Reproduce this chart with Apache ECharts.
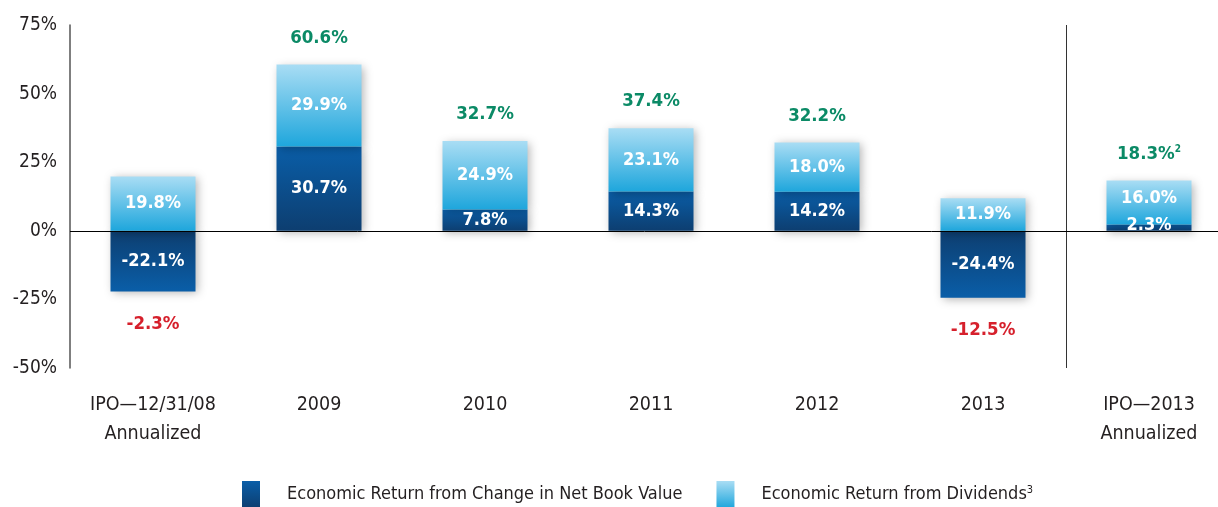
<!DOCTYPE html>
<html>
<head>
  <meta charset="utf-8">
  <title>Economic Return</title>
  <script src="https://cdn.jsdelivr.net/npm/echarts@6/dist/echarts.min.js"></script>
  <style>
    html,body {
      margin: 0;
      padding: 0;
      background: #fff;
    }
  </style>
</head>
<body>
  <div id="main" style="width: 1218px;height:507px;"></div>
  <script>
    // chart data
    var categories = ['IPO\u201412/31/08\nAnnualized', '2009', '2010', '2011', '2012', '2013', 'IPO\u20142013\nAnnualized'];
    var bookValue = [-22.1, 30.7, 7.8, 14.3, 14.2, -24.4, 2.3];
    var dividends = [19.8, 29.9, 24.9, 23.1, 18.0, 11.9, 16.0];
    var totals = [-2.3, 60.6, 32.7, 37.4, 32.2, -12.5, 18.3];
    var totalNotes = ['', '', '', '', '', '', '2'];
    var yTicks = [-50, -25, 0, 25, 50, 75];
    var seriesNames = ['Economic Return from Change in Net Book Value', 'Economic Return from Dividends'];

    var FONT = "'Liberation Sans Narrow', 'DejaVu Sans Condensed', 'Roboto Condensed', sans-serif";
    var chart = echarts.init(document.getElementById('main'));

    function grad(top, bottom) {
      return new echarts.graphic.LinearGradient(0, 0, 0, 1, [
        { offset: 0, color: top },
        { offset: 1, color: bottom }
      ]);
    }
    var DARK = '#0d3e70', MID = '#0a5ea8';
    var LIGHT = '#a9ddf4', CYAN = '#1ea6dc';
    var GREEN = '#0b8a66', RED = '#d6202c';

    function pct(v) {
      return v.toFixed(1) + '%';
    }

    var bookData = bookValue.map(function (v) {
      var item = {
        value: v,
        itemStyle: { color: v >= 0 ? grad(MID, DARK) : grad(DARK, MID) }
      };
      if (Math.abs(v) < 5) item.label = { offset: [0, -2] };
      return item;
    });
    var divData = dividends.map(function (v, i) {
      var item = { value: v, itemStyle: { color: grad(LIGHT, CYAN) } };
      if (Math.abs(bookValue[i]) < 5) item.label = { offset: [0, -4] };
      return item;
    });
    // total labels sit on the outer edge of each stack
    var totalData = totals.map(function (t, i) {
      var pos = t >= 0;
      var edge = pos ? Math.max(bookValue[i], 0) + dividends[i] : Math.min(bookValue[i], 0);
      return {
        value: edge,
        itemStyle: { color: pos ? GREEN : RED },
        label: {
          position: pos ? 'top' : 'bottom',
          distance: pos ? 17 : 23,
          color: pos ? GREEN : RED
        }
      };
    });

    var shadow = {
      shadowBlur: 9,
      shadowColor: 'rgba(0,0,0,0.3)',
      shadowOffsetX: 2,
      shadowOffsetY: 2
    };

    var option = {
      animation: false,
      textStyle: { fontFamily: FONT },
      grid: { left: 70, top: 25, width: 1162, bottom: 139, outerBoundsMode: 'none' },
      legend: {
        left: 242,
        top: 481,
        padding: 0,
        itemWidth: 18,
        itemHeight: 27,
        itemGap: 34,
        icon: 'rect',
        data: seriesNames,
        formatter: function (name) {
          return name === seriesNames[1] ? name + '{sup|3}' : name;
        },
        textStyle: {
          fontFamily: FONT,
          fontSize: 18,
          color: '#231f20',
          padding: [0, 0, 0, 22],
          rich: { sup: { fontSize: 11, verticalAlign: 'top', padding: [0, 0, 8, 0], fontFamily: FONT, color: '#231f20' } }
        }
      },
      xAxis: {
        type: 'category',
        data: categories,
        axisLine: { show: false, onZero: false },
        axisTick: { show: false },
        axisLabel: {
          margin: 22,
          fontSize: 19.5,
          lineHeight: 29,
          color: '#231f20',
          fontFamily: FONT
        },
        splitLine: { show: false }
      },
      yAxis: {
        type: 'value',
        min: yTicks[0],
        max: yTicks[yTicks.length - 1],
        interval: 25,
        axisLine: { show: true, lineStyle: { color: '#555', width: 1.5 } },
        axisTick: { show: false },
        splitLine: { show: false },
        axisLabel: {
          margin: 13,
          fontSize: 19,
          color: '#231f20',
          fontFamily: FONT,
          formatter: '{value}%'
        }
      },
      series: [{
        name: seriesNames[0],
        type: 'bar',
        stack: 'ret',
        barWidth: 85,
        itemStyle: Object.assign({ color: grad(MID, DARK) }, shadow),
        label: {
          show: true,
          position: 'inside',
          color: '#fff',
          fontWeight: 'bold',
          fontSize: 18,
          fontFamily: FONT,
          formatter: function (p) { return pct(p.value); }
        },
        markLine: {
          silent: true,
          symbol: 'none',
          label: { show: false },
          lineStyle: { color: '#000', width: 1, type: 'solid' },
          data: [{ yAxis: 0 }]
        },
        data: bookData
      }, {
        name: seriesNames[1],
        type: 'bar',
        stack: 'ret',
        barWidth: 85,
        itemStyle: Object.assign({ color: grad(LIGHT, CYAN) }, shadow),
        label: {
          show: true,
          position: 'inside',
          color: '#fff',
          fontWeight: 'bold',
          fontSize: 18,
          fontFamily: FONT,
          formatter: function (p) { return pct(p.value); }
        },
        data: divData
      }, {
        name: 'total',
        type: 'scatter',
        symbolSize: 0,
        silent: true,
        itemStyle: { opacity: 1 },
        label: {
          show: true,
          fontWeight: 'bold',
          fontSize: 18.5,
          fontFamily: FONT,
          formatter: function (p) {
            var i = p.dataIndex;
            return pct(totals[i]) + (totalNotes[i] ? '{sup|' + totalNotes[i] + '}' : '');
          },
          rich: { sup: { fontSize: 10, fontWeight: 'bold', color: GREEN, verticalAlign: 'top', padding: [0, 0, 8, 0] } }
        },
        data: totalData
      }]
    };
    chart.setOption(option);

    // divider between the yearly bars and the cumulative bar
    var xa = chart.convertToPixel({ xAxisIndex: 0 }, 5);
    var xb = chart.convertToPixel({ xAxisIndex: 0 }, 6);
    var xd = Math.round((xa + xb) / 2) + 0.5;
    var yTop = chart.convertToPixel({ yAxisIndex: 0 }, yTicks[yTicks.length - 1]);
    var yBot = chart.convertToPixel({ yAxisIndex: 0 }, yTicks[0]);
    chart.setOption({
      graphic: [{
        type: 'line',
        silent: true,
        shape: { x1: xd, y1: yTop, x2: xd, y2: yBot },
        style: { stroke: '#333', lineWidth: 1 }
      }]
    });
  </script>
</body>
</html>
